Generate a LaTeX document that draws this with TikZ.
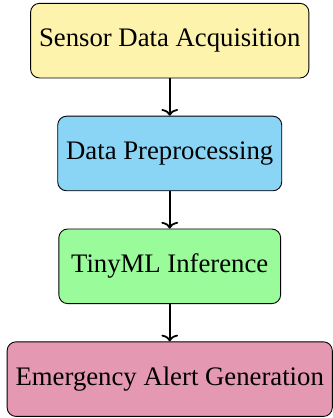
\documentclass[tikz,border=0pt]{standalone}
\usepackage{fontspec}
\setmainfont{Liberation Serif}
\usepackage{tikz}
\usetikzlibrary{arrows.meta}

\definecolor{sensorcol}{RGB}{253,243,173}
\definecolor{prepcol}{RGB}{138,213,245}
\definecolor{infercol}{RGB}{153,251,153}
\definecolor{alertcol}{RGB}{228,152,178}

\begin{document}
\begin{tikzpicture}
        [
        >={To[width = 7.5pt, length = 3pt]},
        stage/.style = {
            draw, rectangle, rounded corners,
            align=center,
            font = \fontsize{12}{14.4}\selectfont,
            minimum width = 3.5 cm,
            minimum height = 33.5 pt,
            inner xsep = 3.8 pt,
            node distance = 1.78 cm,
        },
        ]

        % Stappen
        \node[stage, fill = sensorcol] (sensor) {Sensor Data Acquisition};
        \node[stage, fill = prepcol, below of = sensor] (preprocessing) {Data Preprocessing};
        \node[stage, fill = infercol, below of = preprocessing] (inference) {TinyML Inference};
        \node[stage, fill = alertcol, below of = inference] (alert) {Emergency Alert Generation};

        % Kader
        \coordinate (topright) at (sensor.north -| alert.east);
        \useasboundingbox ([xshift = -3pt, yshift = -0.5pt] alert.south west) rectangle ([yshift = 1.3pt] topright);

        % Overgangen
        \path
            [
            ->,
            thick
            ]
            (sensor) edge (preprocessing)
            (preprocessing) edge (inference)
            (inference) edge (alert);
    \end{tikzpicture}
\end{document}
